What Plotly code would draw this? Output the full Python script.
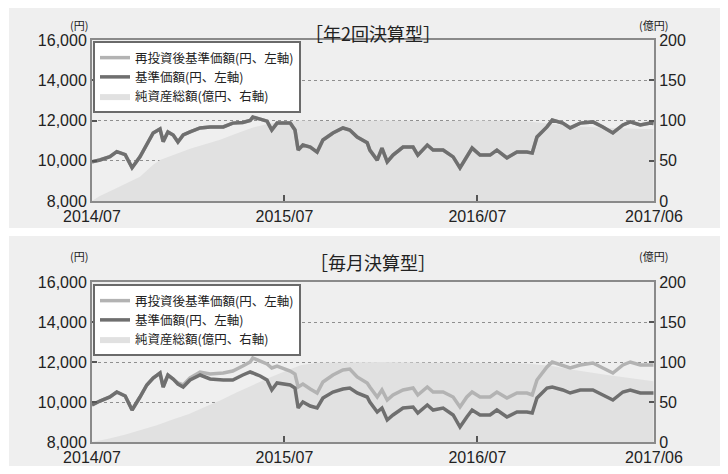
import plotly.graph_objects as go

# ---------------- data ----------------
dates = [
    "2014-07-01", "2014-07-16", "2014-08-04", "2014-08-17", "2014-09-02", "2014-09-15",
    "2014-09-30", "2014-10-13", "2014-10-25", "2014-11-07", "2014-11-13", "2014-11-22",
    "2014-12-02", "2014-12-11", "2014-12-21", "2015-01-03", "2015-01-22", "2015-02-10",
    "2015-03-07", "2015-03-25", "2015-04-13", "2015-04-27", "2015-05-02", "2015-05-16",
    "2015-05-29", "2015-06-07", "2015-06-17", "2015-07-12", "2015-07-21", "2015-07-27",
    "2015-08-05", "2015-08-19", "2015-09-01", "2015-09-12", "2015-10-01", "2015-10-20",
    "2015-11-02", "2015-11-16", "2015-12-05", "2015-12-10", "2015-12-24", "2016-01-02",
    "2016-01-12", "2016-01-23", "2016-02-11", "2016-03-01", "2016-03-10", "2016-03-28",
    "2016-04-08", "2016-04-27", "2016-05-16", "2016-05-29", "2016-06-11", "2016-06-21",
    "2016-07-06", "2016-07-25", "2016-08-07", "2016-08-26", "2016-09-14", "2016-10-03",
    "2016-10-13", "2016-10-22", "2016-11-10", "2016-11-20", "2016-12-10", "2016-12-24",
    "2017-01-12", "2017-02-05", "2017-02-24", "2017-03-15", "2017-04-03", "2017-04-17",
    "2017-05-06", "2017-05-25", "2017-05-31",
]

# [年2回決算型] 基準価額 (円)
semi_nav = [
    9950, 10040, 10200, 10450, 10300, 9650,
    10200, 10850, 11380, 11580, 10950, 11430,
    11280, 10930, 11280, 11430, 11630, 11680,
    11680, 11870, 11900, 12000, 12170, 12070,
    11970, 11530, 11870, 11870, 11530, 10530,
    10780, 10680, 10430, 11030, 11380, 11630,
    11530, 11180, 10900, 10530, 10030, 10630,
    9940, 10280, 10680, 10680, 10280, 10780,
    10530, 10530, 10190, 9640, 10190, 10630,
    10280, 10280, 10530, 10140, 10430, 10430,
    10380, 11180, 11680, 12020, 11870, 11630,
    11870, 11930, 11680, 11380, 11780, 11930,
    11780, 11870, 11850,
]
# [年2回決算型] 再投資後基準価額 (円) - coincides with 基準価額 in the picture
semi_reinv = [
    9950, 10040, 10200, 10450, 10300, 9650,
    10200, 10850, 11380, 11580, 10950, 11430,
    11280, 10930, 11280, 11430, 11630, 11680,
    11680, 11870, 11900, 12000, 12170, 12070,
    11970, 11530, 11870, 11870, 11530, 10530,
    10780, 10680, 10430, 11030, 11380, 11630,
    11530, 11180, 10900, 10530, 10030, 10630,
    9940, 10280, 10680, 10680, 10280, 10780,
    10530, 10530, 10190, 9640, 10190, 10630,
    10280, 10280, 10530, 10140, 10430, 10430,
    10380, 11180, 11680, 12020, 11870, 11630,
    11870, 11930, 11680, 11380, 11780, 11930,
    11780, 11870, 11850,
]

# [毎月決算型] 基準価額 (円)
mon_nav = [
    9850, 10050, 10250, 10500, 10300, 9600,
    10250, 10850, 11200, 11450, 10750, 11350,
    11150, 10900, 10750, 11100, 11350, 11150,
    11100, 11100, 11350, 11500, 11450, 11300,
    11100, 10600, 10950, 10850, 10700, 9700,
    10000, 9800, 9700, 10200, 10500, 10650,
    10700, 10450, 10250, 10000, 9500, 9700,
    9100, 9350, 9700, 9750, 9450, 9850,
    9600, 9700, 9350, 8750, 9250, 9600,
    9350, 9350, 9600, 9250, 9500, 9500,
    9450, 10200, 10700, 10750, 10600, 10450,
    10600, 10600, 10350, 10100, 10500, 10600,
    10450, 10450, 10450,
]
# [毎月決算型] 再投資後基準価額 (円)
mon_reinv = [
    9850, 10050, 10250, 10500, 10300, 9600,
    10250, 10850, 11200, 11450, 10750, 11350,
    11150, 10950, 10850, 11200, 11500, 11400,
    11450, 11550, 11800, 12000, 12200, 12050,
    11900, 11700, 11800, 11550, 11400, 10750,
    10900, 10650, 10450, 11000, 11350, 11600,
    11650, 11250, 10950, 10750, 10250, 10600,
    10100, 10350, 10600, 10700, 10350, 10750,
    10500, 10500, 10250, 9750, 10250, 10500,
    10250, 10250, 10500, 10200, 10450, 10450,
    10350, 11100, 11750, 12000, 11850, 11700,
    11850, 11950, 11700, 11450, 11850, 12000,
    11850, 11850, 11850,
]

# 純資産総額 (億円)
semi_asset_dates = [
    "2014-07-01", "2014-07-15", "2014-08-17", "2014-09-30", "2014-10-25", "2014-11-07",
    "2015-01-03", "2015-03-01", "2015-04-01", "2015-05-01", "2015-06-01", "2015-07-01",
    "2015-08-01", "2015-10-01", "2016-01-01", "2016-04-01", "2016-07-01", "2016-10-01",
    "2016-11-20", "2017-01-01", "2017-03-01", "2017-05-31",
]
semi_assets = [
    0, 6, 16, 30, 45, 51,
    65, 76, 84, 91, 96, 98,
    100, 99, 100, 99, 100, 99,
    96, 93, 91, 89,
]
mon_asset_dates = [
    "2014-07-01", "2014-08-01", "2014-09-01", "2014-10-01", "2014-11-01", "2014-12-01",
    "2015-01-01", "2015-02-01", "2015-03-01", "2015-04-01", "2015-05-01", "2015-06-01",
    "2015-07-01", "2015-08-01", "2015-09-01", "2016-01-01", "2016-04-01", "2016-07-01",
    "2016-10-01", "2016-11-20", "2017-01-01", "2017-03-01", "2017-05-31",
]
mon_assets = [
    0, 4, 9, 15, 21, 28,
    35, 44, 52, 62, 71, 80,
    88, 96, 99, 100, 99, 99,
    98, 95, 90, 84, 76,
]

yen_ticks = [8000, 10000, 12000, 14000, 16000]
yen_labels = ["8,000", "10,000", "12,000", "14,000", "16,000"]
oku_ticks = [0, 50, 100, 150, 200]
oku_labels = ["0", "50", "100", "150", "200"]
x_ticks = ["2014-07-01", "2015-07-01", "2016-07-01", "2017-06-01"]
x_labels = ["2014/07", "2015/07", "2016/07", "2017/06"]

names = ["再投資後基準価額(円、左軸)", "基準価額(円、左軸)", "純資産総額(億円、右軸)"]
titles = ["［年2回決算型］", "［毎月決算型］"]

# ---------------- styling ----------------
# page pixel -> paper fraction (the graph div sits at (8,8) and is 712 x 458)
OX, OY, PW, PH = 8, 8, 712, 458
def px(v):
    return (v - OX) / PW
def py(v):
    return 1 - (v - OY) / PH

AREA = "#e1e1e1"
LIGHT = "#b3b3b3"
DARK = "#6f6f6f"
FRAME = "#8a8a8a"
TXT = "#222222"
NUMFONT = dict(family="Liberation Sans, Arial", size=16, color=TXT)
JPFONT = "Noto Sans CJK JP"

fig = go.Figure()

panels = [
    dict(x="x", ya="y", yy="y2", leg="legend", ad=semi_asset_dates, av=semi_assets,
         reinv=semi_reinv, nav=semi_nav),
    dict(x="x2", ya="y3", yy="y4", leg="legend2", ad=mon_asset_dates, av=mon_assets,
         reinv=mon_reinv, nav=mon_nav),
]
for p in panels:
    fig.add_trace(go.Scatter(
        x=p["ad"], y=p["av"], xaxis=p["x"], yaxis=p["ya"], mode="lines",
        fill="tozeroy", fillcolor=AREA, line=dict(width=0, color=AREA),
        name=names[2], legend=p["leg"], legendrank=3, hoverinfo="skip"))
    fig.add_trace(go.Scatter(
        x=dates, y=p["reinv"], xaxis=p["x"], yaxis=p["yy"], mode="lines",
        line=dict(width=3.5, color=LIGHT), name=names[0], legend=p["leg"], legendrank=1))
    fig.add_trace(go.Scatter(
        x=dates, y=p["nav"], xaxis=p["x"], yaxis=p["yy"], mode="lines",
        line=dict(width=3.5, color=DARK), name=names[1], legend=p["leg"], legendrank=2))

xdom = [px(92), px(654)]
doms = [[py(201), py(40)], [py(442), py(282)]]

def xaxis_cfg(anchor):
    return dict(domain=xdom, anchor=anchor, type="date", automargin=False,
                range=["2014-07-01", "2017-06-01"],
                tickmode="array", tickvals=x_ticks, ticktext=x_labels,
                ticks="inside", ticklen=6, tickwidth=2, tickcolor="#555",
                showline=True, linecolor=FRAME, linewidth=2, mirror=True,
                showgrid=False, zeroline=False, tickfont=NUMFONT, fixedrange=True)

def oku_cfg(anchor, dom):
    return dict(domain=dom, anchor=anchor, side="right", range=[0, 200], automargin=False,
                tickmode="array", tickvals=oku_ticks, ticktext=oku_labels,
                ticks="inside", ticklen=5, tickwidth=2, tickcolor="#555",
                showline=True, linecolor=FRAME, linewidth=2,
                showgrid=False, zeroline=False, tickfont=NUMFONT, fixedrange=True)

def yen_cfg(anchor, over):
    return dict(anchor=anchor, overlaying=over, side="left", range=[8000, 16000],
                automargin=False,
                tickmode="array", tickvals=yen_ticks, ticktext=yen_labels,
                ticks="inside", ticklen=5, tickwidth=2, tickcolor="#555",
                showline=True, linecolor=FRAME, linewidth=2,
                showgrid=True, gridcolor="#8f8f8f", griddash="dot", gridwidth=1,
                zeroline=False, tickfont=NUMFONT, fixedrange=True)

def legend_cfg(ytop):
    return dict(x=px(93), y=py(ytop), xanchor="left", yanchor="top",
                bgcolor="white", bordercolor="#6a6a6a", borderwidth=2,
                font=dict(family=JPFONT, size=12.5, color=TXT),
                tracegroupgap=0, itemwidth=30)

annotations = []
for i, (ty, uy) in enumerate([(18, 15), (262, 256)]):
    annotations.append(dict(text=titles[i], x=px(373), y=py(ty), xref="paper", yref="paper",
                            showarrow=False, font=dict(family=JPFONT, size=18, color=TXT)))
    annotations.append(dict(text="(円)", x=px(68), y=py(uy), xref="paper", yref="paper",
                            showarrow=False, font=dict(family=JPFONT, size=11, color=TXT)))
    annotations.append(dict(text="(億円)", x=px(670), y=py(uy), xref="paper", yref="paper",
                            showarrow=False, font=dict(family=JPFONT, size=11, color=TXT)))

shapes = [
    dict(type="rect", xref="paper", yref="paper", x0=px(9), x1=px(724), y0=py(228), y1=py(3),
         fillcolor="#efefef", line=dict(width=0), layer="below"),
    dict(type="rect", xref="paper", yref="paper", x0=px(9), x1=px(724), y0=py(472), y1=py(236),
         fillcolor="#efefef", line=dict(width=0), layer="below"),
]

fig.update_layout(
    autosize=True,
    margin=dict(l=0, r=0, t=0, b=0, pad=0, autoexpand=False),
    paper_bgcolor="white", plot_bgcolor="white",
    showlegend=True,
    xaxis=xaxis_cfg("y"),
    yaxis=oku_cfg("x", doms[0]),
    yaxis2=yen_cfg("x", "y"),
    xaxis2=xaxis_cfg("y3"),
    yaxis3=oku_cfg("x2", doms[1]),
    yaxis4=yen_cfg("x2", "y3"),
    legend=legend_cfg(41),
    legend2=legend_cfg(284),
    annotations=annotations,
    shapes=shapes,
)

fig.write_html("out.html", config={"responsive": True})
